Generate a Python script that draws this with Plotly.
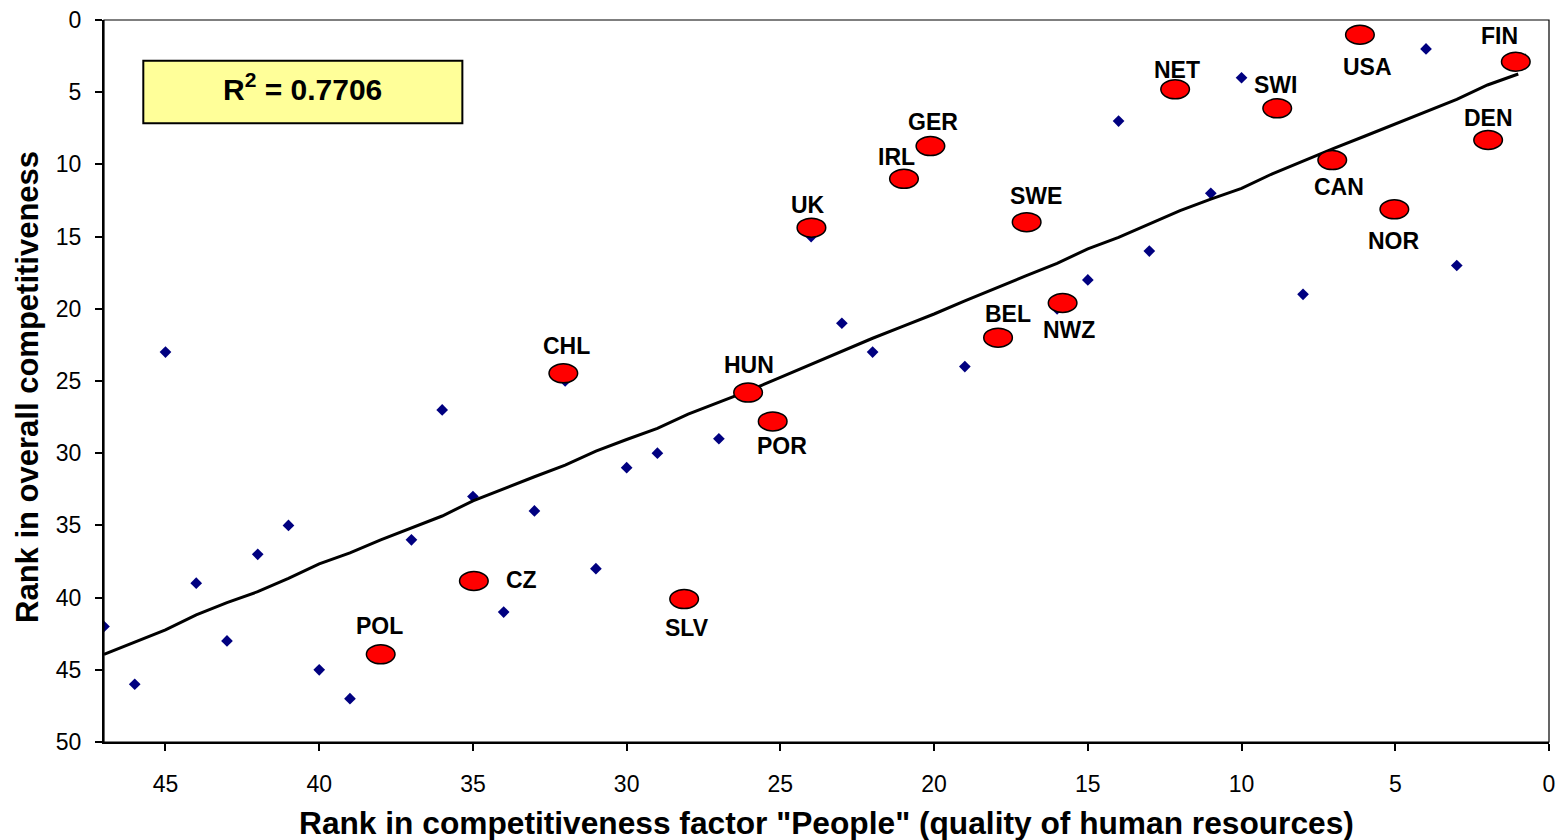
import plotly.graph_objects as go

# ---------------- data ----------------
people_rank = list(range(1, 48))
overall_rank = [3, 8, 17, 2, 13, 1, 10, 19, 6, 4, 12, 5, 16, 7, 18, 20, 14, 22, 24, 9,
                11, 23, 21, 15, 28, 26, 29, 40, 30, 31, 38, 25, 34, 41, 33, 27, 36, 44,
                47, 45, 35, 37, 43, 39, 23, 46, 42]

hl_names = ["FIN", "DEN", "NOR", "USA", "CAN", "SWI", "NET", "NWZ", "SWE", "BEL",
            "GER", "IRL", "UK", "POR", "HUN", "SLV", "CHL", "CZ", "POL"]
hl_people = [1.08, 1.98, 5.03, 6.15, 7.05, 8.84, 12.16, 15.82, 16.99, 17.92,
             20.12, 20.98, 23.99, 25.25, 26.05, 28.13, 32.06, 34.97, 38.0]
hl_overall = [2.89, 8.31, 13.11, 1.02, 9.7, 6.12, 4.8, 19.6, 14.0, 22.0,
              8.73, 11.0, 14.38, 27.8, 25.8, 40.1, 24.47, 38.85, 43.93]

trend_x = list(range(47, 0, -1))
trend_y = [43.93, 43.1, 42.24, 41.2, 40.35, 39.59, 38.67, 37.67, 36.9, 36.0,
           35.15, 34.35, 33.3, 32.45, 31.63, 30.82, 29.85, 29.05, 28.28, 27.3,
           26.5, 25.65, 24.75, 23.85, 22.95, 22.04, 21.2, 20.36, 19.45, 18.55,
           17.7, 16.85, 15.85, 15.05, 14.1, 13.2, 12.4, 11.66, 10.65, 9.75,
           8.89, 8.05, 7.2, 6.3, 5.49, 4.5, 3.74]

r2_text = "R<sup>2</sup> = 0.7706"
x_ticks = [45, 40, 35, 30, 25, 20, 15, 10, 5, 0]
y_ticks = [0, 5, 10, 15, 20, 25, 30, 35, 40, 45, 50]
x_title = 'Rank in competitiveness factor "People" (quality of human resources)'
y_title = "Rank in overall competitiveness"

# label offsets (pixels, relative to the ellipse centre) - styling
label_dx = [-16, 0, 0, 8, 7, -2, 2, 6, 9, 10, 3, -7, -3, 9, 1, 3, 3, 48, -1]
label_dy = [-26, -22, 32, 32, 27, -23, -19, 27, -26, -24, -24, -22, -23, 25, -28, 29, -27, -1, -28]

FONT = "Liberation Sans, Arial, sans-serif"

fig = go.Figure()

fig.add_trace(go.Scatter(
    x=people_rank, y=overall_rank, mode="markers",
    marker=dict(symbol="diamond", size=9, color="#000080"),
    showlegend=False, hoverinfo="skip"))

fig.add_trace(go.Scatter(
    x=trend_x, y=trend_y, mode="lines",
    line=dict(color="black", width=3),
    showlegend=False, hoverinfo="skip"))

shapes = []
annotations = []
for name, px, py, dx, dy in zip(hl_names, hl_people, hl_overall, label_dx, label_dy):
    shapes.append(dict(type="circle", xref="x", yref="y",
                       xsizemode="pixel", ysizemode="pixel",
                       xanchor=px, yanchor=py,
                       x0=-14.3, x1=14.3, y0=-9.5, y1=9.5,
                       fillcolor="#FF0000", line=dict(color="black", width=1.5),
                       layer="above"))
    annotations.append(dict(x=px, y=py, xref="x", yref="y", text=name,
                            showarrow=False, xshift=dx, yshift=-dy,
                            font=dict(family=FONT, size=23, color="black", weight="bold")))

# plot frame (thin top/right lines)
shapes.append(dict(type="rect", xref="paper", yref="paper", x0=0, x1=1, y0=0, y1=1,
                   line=dict(color="black", width=1.2), layer="above"))

# R^2 box
shapes.append(dict(type="rect", xref="paper", yref="paper",
                   x0=0.0272, x1=0.248, y0=0.8569, y1=0.9436,
                   fillcolor="#FFFF99", line=dict(color="black", width=2), layer="above"))
annotations.append(dict(xref="paper", yref="paper", x=(0.0272 + 0.248) / 2,
                        y=(0.8569 + 0.9436) / 2, xanchor="center", yanchor="middle",
                        yshift=5, text=r2_text, showarrow=False,
                        font=dict(family=FONT, size=30, color="black", weight="bold")))

# axis titles
annotations.append(dict(xref="paper", yref="paper", x=0.5, y=0, yanchor="middle",
                        yshift=-81, text=x_title, showarrow=False,
                        font=dict(family=FONT, size=31.7, color="black", weight="bold")))
annotations.append(dict(xref="paper", yref="paper", x=0, y=0.5, xanchor="center",
                        yanchor="middle", xshift=-77, yshift=-6, textangle=-90,
                        text=y_title, showarrow=False,
                        font=dict(family=FONT, size=31, color="black", weight="bold")))

fig.update_layout(
    width=1558, height=840,
    margin=dict(l=104, r=9, t=20, b=98, autoexpand=False),
    plot_bgcolor="white", paper_bgcolor="white",
    shapes=shapes, annotations=annotations,
    font=dict(family=FONT, color="black"),
    xaxis=dict(range=[47, 0], tickvals=x_ticks, ticktext=[str(v) for v in x_ticks],
               showgrid=False, zeroline=False, showline=True, linecolor="black",
               linewidth=2, ticks="outside", ticklen=7, tickwidth=1.5, tickcolor="black",
               tickfont=dict(family=FONT, size=23, color="black"),
               ticklabelstandoff=13, automargin=False),
    yaxis=dict(range=[50, 0], tickvals=y_ticks, ticktext=[str(v) for v in y_ticks],
               showgrid=False, zeroline=False, showline=True, linecolor="black",
               linewidth=2, ticks="outside", ticklen=7, tickwidth=1.5, tickcolor="black",
               tickfont=dict(family=FONT, size=23, color="black"),
               ticklabelstandoff=9, automargin=False),
)

fig.write_html("out.html", config={"displayModeBar": False},
               post_script="document.body.style.margin='0';")
